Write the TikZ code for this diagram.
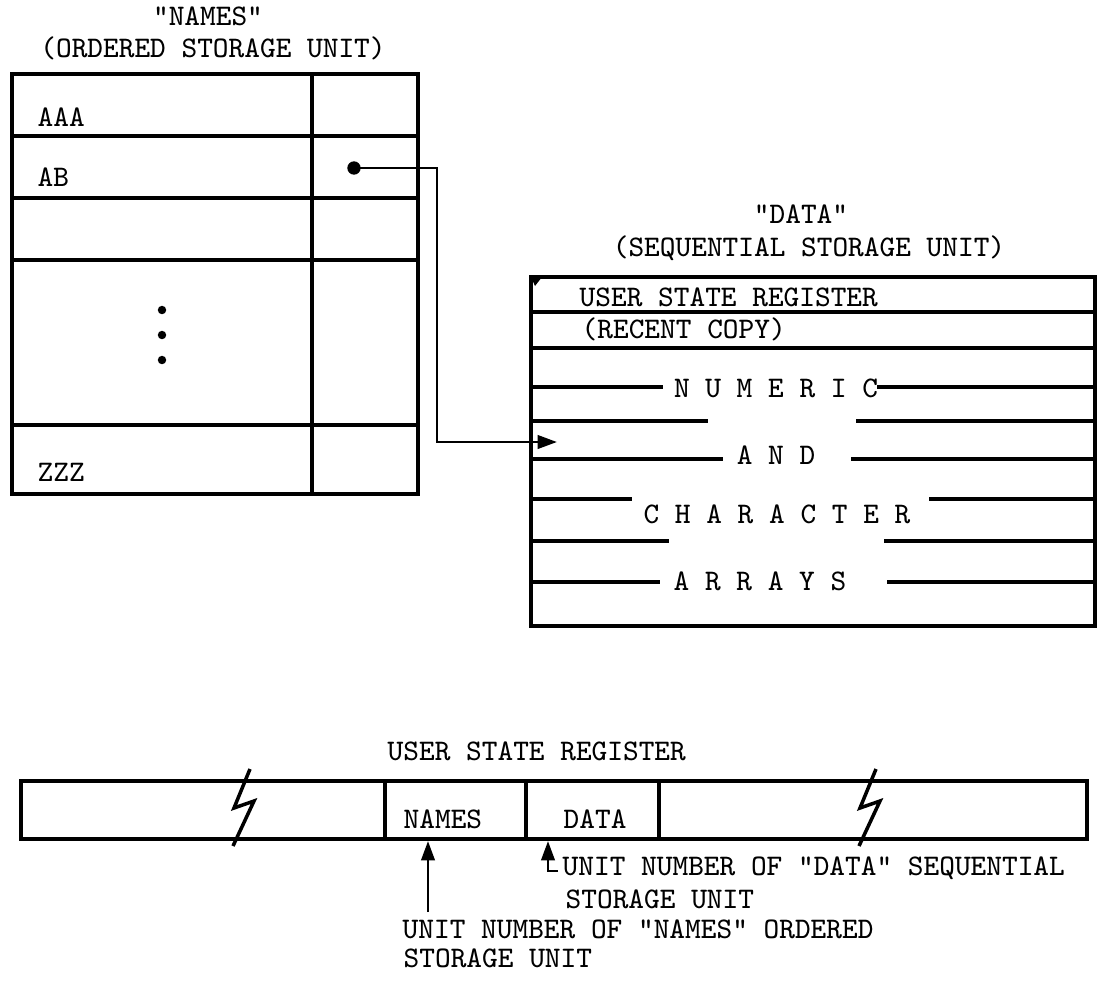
\documentclass[tikz,border=0pt]{standalone}
\usepackage{tikz}
\usetikzlibrary{positioning,arrows.meta}

\tikzset{
  tw/.style={font=\fontsize{8.5}{10}\selectfont\ttfamily, inner sep=0pt},
  twl/.style={tw, anchor=base west},
  twc/.style={tw, anchor=base},
  rule/.style={line width=0.9pt},
  ptr/.style={line width=0.8pt, -{Triangle[length=5.5pt,width=3.8pt]}},
  brk/.style={line width=1pt, line join=miter},
}

\begin{document}
\begin{tikzpicture}[x=0.01cm,y=-0.01cm]
  \useasboundingbox (0,0) rectangle (1106,981);

  % "NAMES" ordered storage unit
  \node[twc] (namesttl) at (208,25) {"NAMES"};
  \node[twc] (namessub) at (213,57) {(ORDERED STORAGE UNIT)};
  \draw[rule] (12,74) rectangle (418,494);
  \draw[rule] (312,74) -- (312,494);
  \foreach \y in {136,198,260,425} \draw[rule] (12,\y) -- (418,\y);
  \node[twl] (aaa) at (37,126) {AAA};
  \node[twl] (ab) at (37,186) {AB};
  \node[twl] (zzz) at (37,481) {ZZZ};
  \foreach \y in {310,335,360} \fill (162,\y) circle (1.2pt);

  % "DATA" sequential storage unit
  \node[twc] (datattl) at (801,223) {"DATA"};
  \node[twc] (datasub) at (809,256) {(SEQUENTIAL STORAGE UNIT)};
  \draw[rule] (531,277) rectangle (1095,626);
  \fill (531,277) -- (542,277) -- (535,286) -- cycle;
  \draw[rule] (531,312) -- (1095,312);
  \draw[rule] (531,348) -- (1095,348);
  \foreach \y/\a/\b in {387/663/877,421/708/856,459/723/851,499/632/929,541/669/884,582/660/887}{
    \draw[rule] (531,\y) -- (\a,\y);
    \draw[rule] (\b,\y) -- (1095,\y);
  }
  \node[twl] (usr) at (579,306) {USER STATE REGISTER};
  \node[twl] (recent) at (581,338) {(RECENT COPY)};
  \node[twc] (numeric) at (776,397) {N U M E R I C};
  \node[twc] (and) at (776,464) {A N D};
  \node[twc] (character) at (777,523) {C H A R A C T E R};
  \node[twc] (arrays) at (760,590) {A R R A Y S};

  % pointer AB -> data
  \coordinate (abptr) at (354,168);
  \coordinate (datain) at (557,442);
  \fill (abptr) circle (1.9pt);
  \draw[ptr] (abptr) -- ++(83,0) |- (datain);

  % user state register
  \node[twl] (regttl) at (387,760) {USER STATE REGISTER};
  \draw[rule] (21,781) rectangle (1087,839);
  \foreach \x in {385,526,659} \draw[rule] (\x,781) -- (\x,839);
  \node[twl] (regnames) at (403,828) {NAMES};
  \node[twl] (regdata) at (563,828) {DATA};
  \draw[brk] (250,769) -- (234,808) -- (254,801) -- (233,846);
  \draw[brk] (876,769) -- (860,808) -- (880,801) -- (859,846);

  % unit number notes
  \node[twl] (datanote) at (562,875) {UNIT NUMBER OF "DATA" SEQUENTIAL};
  \node[twl] (datanote2) at (565,908) {STORAGE UNIT};
  \node[twl] (namesnote) at (402,938) {UNIT NUMBER OF "NAMES" ORDERED};
  \node[twl] (namesnote2) at (403,967) {STORAGE UNIT};
  \coordinate (dtail) at (558,871);
  \coordinate (dtip) at (548,841);
  \draw[ptr] (dtail) -| (dtip);
  \coordinate (ntail) at (428,912);
  \coordinate (ntip) at (428,841);
  \draw[ptr] (ntail) -- (ntip);
\end{tikzpicture}
\end{document}
